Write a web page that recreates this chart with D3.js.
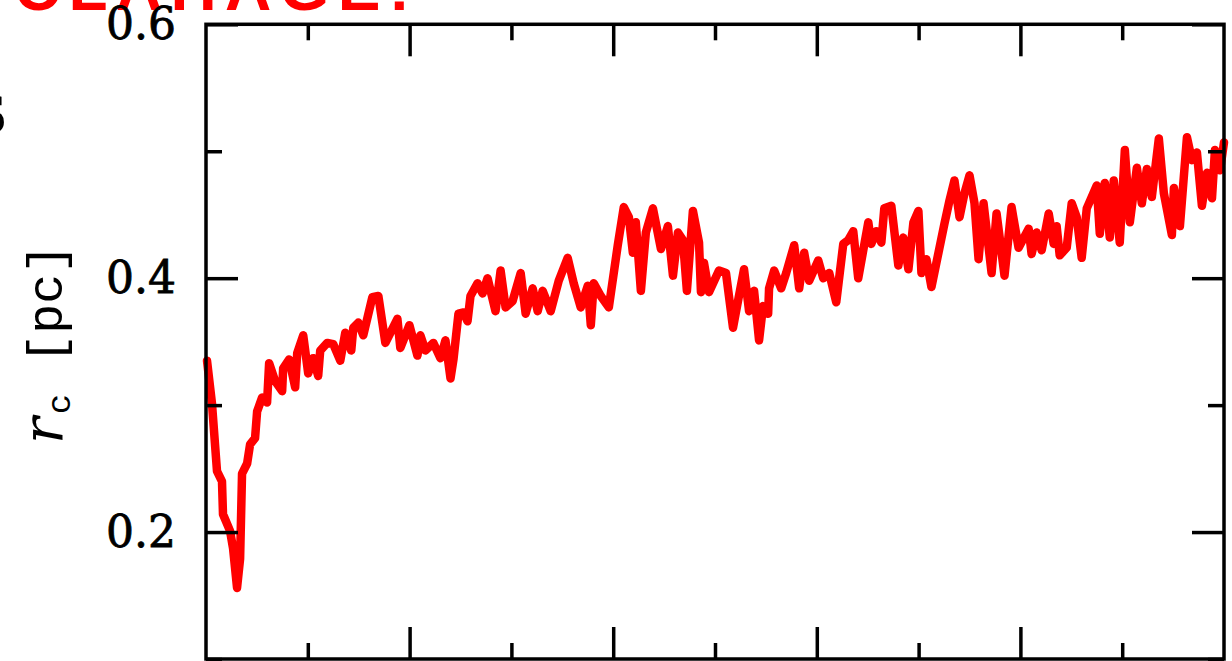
<!DOCTYPE html>
<html>
<head>
<meta charset="utf-8">
<script src="https://cdn.jsdelivr.net/npm/d3@7"></script>
<style>
  body { margin: 0; background: #fff; }
  svg { display: block; }
</style>
</head>
<body>
<script>
// time (arbitrary units, frame spans 0..10) and core radius r_c [pc]
const times = [0.010, 0.059, 0.108, 0.157, 0.167, 0.236, 0.266, 0.305, 0.335, 0.354,
  0.404, 0.433, 0.482, 0.502, 0.551, 0.600, 0.620, 0.679, 0.748, 0.758,
  0.817, 0.876, 0.896, 0.955, 1.004, 1.053, 1.102, 1.122, 1.191, 1.250,
  1.319, 1.368, 1.427, 1.447, 1.496, 1.545, 1.634, 1.693, 1.762, 1.880,
  1.909, 1.998, 2.077, 2.106, 2.156, 2.234, 2.303, 2.352, 2.402, 2.431,
  2.480, 2.530, 2.569, 2.598, 2.667, 2.717, 2.766, 2.844, 2.894, 2.943,
  3.012, 3.091, 3.140, 3.209, 3.258, 3.307, 3.386, 3.465, 3.553, 3.612,
  3.681, 3.750, 3.780, 3.809, 3.878, 3.957, 4.045, 4.104, 4.154, 4.193,
  4.222, 4.272, 4.321, 4.390, 4.469, 4.537, 4.587, 4.636, 4.685, 4.724,
  4.783, 4.843, 4.862, 4.892, 4.941, 5.039, 5.108, 5.177, 5.226, 5.285,
  5.335, 5.384, 5.433, 5.472, 5.522, 5.531, 5.581, 5.650, 5.699, 5.778,
  5.827, 5.876, 5.925, 6.014, 6.063, 6.122, 6.191, 6.260, 6.309, 6.358,
  6.407, 6.506, 6.535, 6.585, 6.634, 6.663, 6.732, 6.801, 6.850, 6.900,
  6.949, 6.998, 7.028, 7.077, 7.126, 7.195, 7.254, 7.303, 7.352, 7.402,
  7.451, 7.500, 7.549, 7.589, 7.638, 7.717, 7.766, 7.844, 7.913, 7.982,
  8.081, 8.110, 8.159, 8.209, 8.278, 8.327, 8.356, 8.386, 8.455, 8.504,
  8.553, 8.602, 8.652, 8.750, 8.780, 8.829, 8.878, 8.917, 8.976, 9.026,
  9.075, 9.144, 9.193, 9.242, 9.291, 9.360, 9.409, 9.488, 9.508, 9.567,
  9.636, 9.685, 9.734, 9.783, 9.833, 9.882, 9.911, 9.961, 10.0];

const coreRadius = [0.335, 0.301, 0.248, 0.240, 0.214, 0.201, 0.187, 0.156, 0.179, 0.246,
  0.254, 0.269, 0.274, 0.295, 0.306, 0.302, 0.333, 0.319, 0.311, 0.329,
  0.336, 0.314, 0.341, 0.355, 0.325, 0.337, 0.323, 0.343, 0.349, 0.348,
  0.335, 0.357, 0.343, 0.361, 0.365, 0.355, 0.385, 0.386, 0.349, 0.368,
  0.345, 0.363, 0.339, 0.355, 0.343, 0.349, 0.337, 0.351, 0.321, 0.336,
  0.372, 0.373, 0.366, 0.386, 0.396, 0.388, 0.400, 0.374, 0.406, 0.377,
  0.382, 0.404, 0.372, 0.392, 0.374, 0.390, 0.374, 0.398, 0.416, 0.396,
  0.377, 0.394, 0.363, 0.396, 0.386, 0.377, 0.426, 0.456, 0.448, 0.420,
  0.444, 0.390, 0.436, 0.455, 0.423, 0.441, 0.402, 0.436, 0.430, 0.390,
  0.453, 0.428, 0.389, 0.412, 0.389, 0.406, 0.404, 0.361, 0.382, 0.407,
  0.374, 0.390, 0.351, 0.378, 0.372, 0.392, 0.406, 0.392, 0.404, 0.426,
  0.392, 0.420, 0.398, 0.414, 0.400, 0.404, 0.381, 0.427, 0.430, 0.437,
  0.400, 0.444, 0.427, 0.437, 0.428, 0.455, 0.457, 0.410, 0.432, 0.407,
  0.444, 0.453, 0.404, 0.415, 0.393, 0.420, 0.443, 0.461, 0.477, 0.448,
  0.467, 0.481, 0.459, 0.415, 0.459, 0.404, 0.451, 0.402, 0.456, 0.424,
  0.439, 0.419, 0.436, 0.422, 0.451, 0.427, 0.441, 0.418, 0.424, 0.459,
  0.448, 0.416, 0.455, 0.473, 0.435, 0.475, 0.432, 0.477, 0.428, 0.501,
  0.444, 0.487, 0.459, 0.486, 0.464, 0.510, 0.467, 0.434, 0.471, 0.441,
  0.511, 0.493, 0.499, 0.457, 0.483, 0.463, 0.501, 0.485, 0.507];

const xMajorTicks = [2, 4, 6, 8];
const xMinorTicks = [1, 3, 5, 7, 9];
const yMajorTicks = [0.2, 0.4, 0.6];
const yMinorTicks = [0.1, 0.3, 0.5];

const width = 1232;
const height = 661;
const marginLeft = 206, marginRight = 1224, marginTop = 24.3, marginBottom = 659;
const fontFamily = "'DejaVu Serif', 'Liberation Serif', serif";
const labelFamily = "'Liberation Mono', 'DejaVu Sans Mono', monospace";

const data = times.map((t, i) => ({ t, r: coreRadius[i] }));

const x = d3.scaleLinear().domain([0, 10]).range([marginLeft, marginRight]);
const y = d3.scaleLinear().domain([0.1, 0.6]).range([marginBottom, marginTop]);

const svg = d3.select("body").append("svg")
  .attr("width", width)
  .attr("height", height);

// partial titles from neighbouring panels, cut by the crop
svg.append("text")
  .attr("x", 14).attr("y", 10)
  .attr("fill", "#ff0000")
  .attr("font-family", "'Liberation Sans', Arial, sans-serif")
  .attr("font-weight", "bold")
  .attr("font-size", 64)
  .attr("textLength", 396)
  .text("CLAHAGE!");

svg.append("text")
  .attr("x", 7).attr("y", 133)
  .attr("text-anchor", "end")
  .attr("fill", "#000")
  .attr("font-family", fontFamily)
  .attr("font-weight", "bold")
  .attr("font-size", 52)
  .text("S");

// data line (drawn first, frame over it)
const line = d3.line()
  .x(d => x(d.t))
  .y(d => y(d.r));

svg.append("path")
  .datum(data)
  .attr("fill", "none")
  .attr("stroke", "#ff0000")
  .attr("stroke-width", 8.5)
  .attr("stroke-linejoin", "round")
  .attr("stroke-linecap", "round")
  .attr("d", line);

function styleAxis(g) {
  g.select(".domain").remove();
  g.selectAll(".tick line").attr("stroke", "#000").attr("stroke-width", 3.5);
  g.selectAll(".tick text")
    .attr("fill", "#000")
    .attr("font-family", fontFamily)
    .attr("font-size", 44)
    .attr("stroke", "#000")
    .attr("stroke-width", 0.8);
}

const majorLen = 32, minorLen = 16;

// bottom and top
svg.append("g").attr("transform", `translate(0,${marginBottom})`)
  .call(d3.axisBottom(x).tickValues(xMajorTicks).tickSize(-majorLen).tickFormat(""))
  .call(styleAxis);
svg.append("g").attr("transform", `translate(0,${marginBottom})`)
  .call(d3.axisBottom(x).tickValues(xMinorTicks).tickSize(-minorLen).tickFormat(""))
  .call(styleAxis);
svg.append("g").attr("transform", `translate(0,${marginTop})`)
  .call(d3.axisTop(x).tickValues(xMajorTicks).tickSize(-majorLen).tickFormat(""))
  .call(styleAxis);
svg.append("g").attr("transform", `translate(0,${marginTop})`)
  .call(d3.axisTop(x).tickValues(xMinorTicks).tickSize(-minorLen).tickFormat(""))
  .call(styleAxis);

// left (labelled) and right
svg.append("g").attr("transform", `translate(${marginLeft},0)`)
  .call(d3.axisLeft(y).tickValues(yMajorTicks).tickSize(-majorLen).tickPadding(30).tickFormat(d3.format(".1f")))
  .call(styleAxis);
svg.append("g").attr("transform", `translate(${marginLeft},0)`)
  .call(d3.axisLeft(y).tickValues(yMinorTicks).tickSize(-minorLen).tickFormat(""))
  .call(styleAxis);
svg.append("g").attr("transform", `translate(${marginRight},0)`)
  .call(d3.axisRight(y).tickValues(yMajorTicks).tickSize(-majorLen).tickFormat(""))
  .call(styleAxis);
svg.append("g").attr("transform", `translate(${marginRight},0)`)
  .call(d3.axisRight(y).tickValues(yMinorTicks).tickSize(-minorLen).tickFormat(""))
  .call(styleAxis);

// frame
svg.append("rect")
  .attr("x", marginLeft).attr("y", marginTop)
  .attr("width", marginRight - marginLeft).attr("height", marginBottom - marginTop)
  .attr("fill", "none")
  .attr("stroke", "#000")
  .attr("stroke-width", 3.5);

// y label: r_c [pc]
const yLabel = svg.append("text")
  .attr("transform", "translate(62,444) rotate(-90)")
  .attr("text-anchor", "start")
  .attr("fill", "#000")
  .attr("font-family", labelFamily)
  .attr("font-size", 50);
yLabel.append("tspan").attr("font-family", fontFamily).attr("font-style", "italic").attr("font-size", 56).text("r");
yLabel.append("tspan").attr("font-size", 34).attr("dy", 8).attr("dx", 3).text("c");
yLabel.append("tspan").attr("dy", -8).attr("dx", 30).text("[pc]");
</script>
</body>
</html>
